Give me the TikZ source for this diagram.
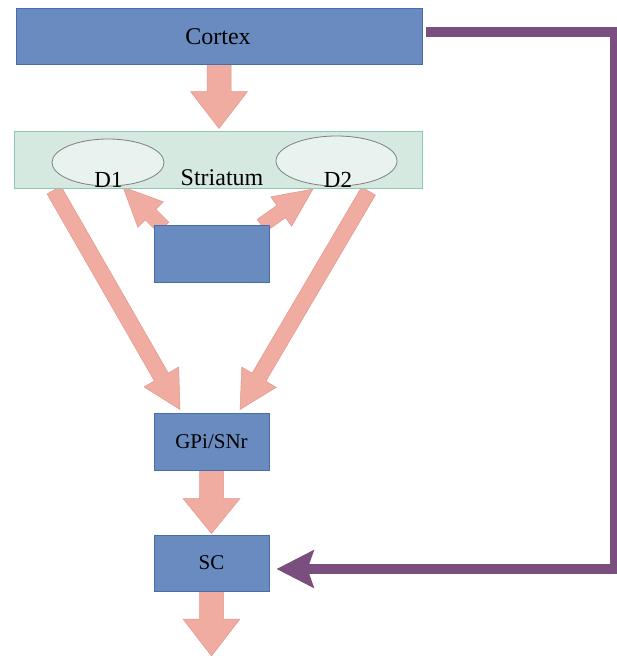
\documentclass[tikz,border=0pt]{standalone}
\usepackage{fontspec}
\setmainfont{Liberation Serif}
\usetikzlibrary{calc,arrows.meta,backgrounds,shapes.geometric}
\definecolor{bluefill}{RGB}{105,139,192}
\definecolor{blueedge}{RGB}{70,110,170}
\definecolor{strfill}{RGB}{213,233,225}
\definecolor{stredge}{RGB}{140,198,182}
\definecolor{ellfill}{RGB}{232,242,239}
\definecolor{elledge}{RGB}{128,128,128}
\definecolor{pinkfill}{RGB}{240,172,160}
\definecolor{pinkedge}{RGB}{226,152,142}
\definecolor{purp}{RGB}{122,78,126}
\tikzset{
  bluebox/.style={draw=blueedge, fill=bluefill, line width=1pt, inner sep=0pt},
  strbox/.style={draw=stredge, fill=strfill, line width=1pt, inner sep=0pt},
  ellnode/.style={ellipse, draw=elledge, fill=ellfill, line width=0.8pt, inner sep=0pt},
  pinkarrow/.style={fill=pinkfill, draw=pinkedge, line width=0.5pt, line join=miter},
  purpline/.style={draw=purp, line width=10pt, line join=miter,
    -{Stealth[length=37pt,width=37pt,inset=6pt]}},
  bigtext/.style={font=\fontsize{24}{28}\selectfont},
  dtext/.style={font=\fontsize{23}{27}\selectfont},
  smalltext/.style={font=\fontsize{21}{25}\selectfont},
}
% #1 start, #2 tip, #3 half shaft width, #4 half head width, #5 head length
\newcommand\blockarr[5]{%
  \coordinate (ba-b) at ($#2!#5!#1$);
  \filldraw[pinkarrow] ($#1!#3!90:#2$) -- ($(ba-b)!#3!90:#2$) -- ($(ba-b)!#4!90:#2$)
    -- #2 -- ($(ba-b)!#4!-90:#2$) -- ($(ba-b)!#3!-90:#2$) -- ($#1!#3!-90:#2$) -- cycle;}
\begin{document}
\begin{tikzpicture}[x=1pt,y=-1pt]
\useasboundingbox (0,0) rectangle (616,656);
% nodes
\node[bluebox, minimum width=406pt, minimum height=56pt] (cortex) at (219,36) {};
\node[bigtext] (cortextext) at (218,37) {Cortex};
\node[strbox, minimum width=408pt, minimum height=57pt] (striatum) at (218,159.5) {};
\node[ellnode, minimum width=112pt, minimum height=47pt] (d1) at (108,162.5) {};
\node[ellnode, minimum width=121pt, minimum height=50pt] (d2) at (336.5,161) {};
\node[bigtext, anchor=base] (strtext) at (222,185) {Striatum};
\node[dtext, anchor=base] (d1text) at (108.5,187) {D1};
\node[dtext, anchor=base] (d2text) at (338,187) {D2};
\node[bluebox, minimum width=115pt, minimum height=57pt] (mod) at (211.5,253.5) {};
\node[bluebox, minimum width=115pt, minimum height=57pt, smalltext] (gpi) at (211.5,441.5) {GPi/SNr};
\node[bluebox, minimum width=115pt, minimum height=56pt, smalltext] (sc) at (211.5,563) {SC};
% coordinates for connector ends
\coordinate (a1s) at (cortex.south);
\coordinate (a1t) at ($(cortex.south |- striatum.north)+(0,-2)$);
\coordinate (a2s) at (54,190);
\coordinate (a2t) at ($(gpi.north)+(-31.5,-3)$);
\coordinate (a3s) at (368.5,191);
\coordinate (a3t) at ($(gpi.north)+(28.5,-3)$);
\coordinate (a4s) at ($(mod.north west)+(10,3)$);
\coordinate (a4t) at (123,187);
\coordinate (a5s) at ($(mod.north east)+(-8,1)$);
\coordinate (a5t) at (313,189);
\coordinate (a6s) at (gpi.south);
\coordinate (a6t) at ($(sc.north)+(0,-1)$);
\coordinate (a7s) at (sc.south);
\coordinate (a7t) at (211.5,656);
\begin{scope}[on background layer]
\blockarr{(a1s)}{(a1t)}{12pt}{28.5pt}{37pt}
\blockarr{(a2s)}{(a2t)}{8pt}{20pt}{37.5pt}
\blockarr{(a3s)}{(a3t)}{8pt}{20pt}{37.5pt}
\blockarr{(a4s)}{(a4t)}{7.5pt}{18pt}{39pt}
\blockarr{(a5s)}{(a5t)}{7.5pt}{18pt}{39pt}
\blockarr{(a6s)}{(a6t)}{12pt}{28.5pt}{35pt}
\blockarr{(a7s)}{(a7t)}{12pt}{28.5pt}{37pt}
\end{scope}
% purple feedback connector
\coordinate (p0) at ($(cortex.east)+(3,-4)$);
\coordinate (p1) at (614.5,32);
\coordinate (p2) at (614.5,569);
\coordinate (p3) at ($(sc.east)+(7,6)$);
\draw[purpline] (p0) -- (p1) -- (p2) -- (p3);
\end{tikzpicture}
\end{document}
